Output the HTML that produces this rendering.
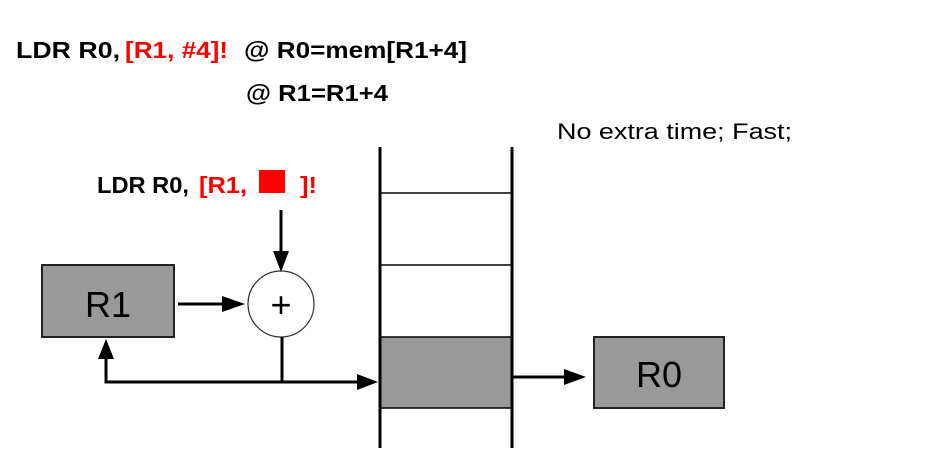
<!DOCTYPE html>
<html><head><meta charset="utf-8"><style>
html,body{margin:0;padding:0;background:#fff;}
svg{display:block;}
text{font-family:"Liberation Sans",sans-serif;}
</style></head><body>
<svg width="951" height="468" viewBox="0 0 951 468" xmlns="http://www.w3.org/2000/svg">
<g font-weight="bold" font-size="23">
<text x="16" y="58" textLength="104" lengthAdjust="spacingAndGlyphs">LDR  R0,</text>
<text x="125" y="58" fill="#f00" textLength="103" lengthAdjust="spacingAndGlyphs">[R1, #4]!</text>
<text x="244" y="58" textLength="223" lengthAdjust="spacingAndGlyphs">@ R0=mem[R1+4]</text>
<text x="246" y="101" textLength="142" lengthAdjust="spacingAndGlyphs">@ R1=R1+4</text>
<text x="97" y="193" textLength="92" lengthAdjust="spacingAndGlyphs">LDR R0,</text>
<text x="199" y="193" fill="#f00" textLength="48" lengthAdjust="spacingAndGlyphs">[R1,</text>
<text x="300" y="193" fill="#f00" textLength="17" lengthAdjust="spacingAndGlyphs">]!</text>
</g>
<rect x="259" y="170" width="26" height="23" fill="#f00"/>
<text x="557" y="139" font-size="22" textLength="235" lengthAdjust="spacingAndGlyphs">No extra time; Fast;</text>

<rect x="42" y="265" width="132" height="72" fill="#999" stroke="#222" stroke-width="2"/>
<text x="108" y="317" font-size="36" text-anchor="middle">R1</text>
<circle cx="281" cy="304" r="33" fill="#fff" stroke="#333" stroke-width="1.2"/>
<text x="281" y="317" font-size="36" text-anchor="middle">+</text>

<line x1="281" y1="210" x2="281" y2="256" stroke="#000" stroke-width="3"/>
<path d="M281,272 L273,251 L289,251 z" fill="#000"/>
<line x1="178" y1="304" x2="228" y2="304" stroke="#000" stroke-width="3"/>
<path d="M245,304 L222,296 L222,312 z" fill="#000"/>
<line x1="282" y1="337" x2="282" y2="382" stroke="#000" stroke-width="3"/>
<polyline points="106,355 106,382 360,382" fill="none" stroke="#000" stroke-width="3"/>
<path d="M106,339 L98,359 L114,359 z" fill="#000"/>
<path d="M378,382 L357,374 L357,390 z" fill="#000"/>

<rect x="380" y="337" width="132" height="71" fill="#999"/>
<line x1="380" y1="193" x2="512" y2="193" stroke="#000" stroke-width="1.5"/>
<line x1="380" y1="265" x2="512" y2="265" stroke="#000" stroke-width="1.5"/>
<line x1="380" y1="337" x2="512" y2="337" stroke="#000" stroke-width="1.5"/>
<line x1="380" y1="408" x2="512" y2="408" stroke="#000" stroke-width="1.5"/>
<line x1="380" y1="147" x2="380" y2="448" stroke="#000" stroke-width="3"/>
<line x1="512" y1="147" x2="512" y2="448" stroke="#000" stroke-width="3"/>
<line x1="512" y1="377" x2="566" y2="377" stroke="#000" stroke-width="3"/>
<path d="M586,377 L564,369 L564,385 z" fill="#000"/>

<rect x="594" y="337" width="130" height="71" fill="#999" stroke="#222" stroke-width="2"/>
<text x="659" y="387" font-size="36" text-anchor="middle">R0</text>
</svg>
</body></html>
